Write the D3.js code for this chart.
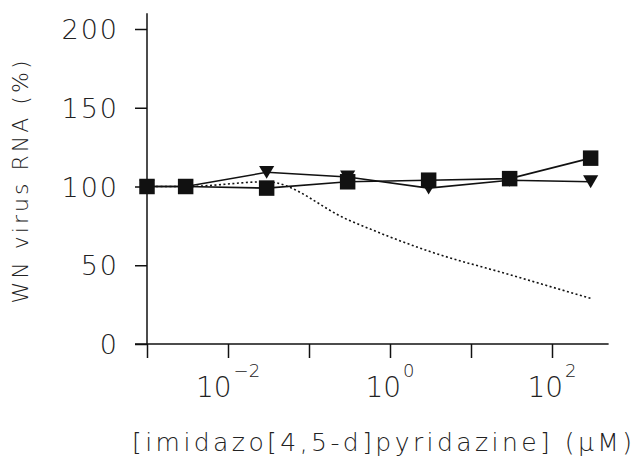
<!DOCTYPE html>
<html>
<head>
<meta charset="utf-8">
<script src="https://cdn.jsdelivr.net/npm/d3@7"></script>
<style>
  body { margin: 0; background: #fff; }
  text { font-family: "DejaVu Sans", sans-serif; fill: #222; font-weight: 200; }
</style>
</head>
<body>
<div id="chart"></div>
<script>
(function() {
var WIDTH = 638;
var HEIGHT = 465;

// concentrations (uM) and % of WN virus RNA
var conc = [0.001, 0.003, 0.03, 0.3, 3, 30, 300];
var squares = [100, 100, 99, 103, 104, 105, 118];
var triangles = [100, 100, 109, 106, 99, 104, 103];
var dotted = [100, 100, 103, 79, 59, 44, 29];
var dottedConc = [0.001, 0.003, 0.03, 0.3, 3, 30, 300];

var yTicks = [0, 50, 100, 150, 200];
var xTicks = [1e-3, 1e-2, 1e-1, 1e0, 1e1, 1e2];
var xLabels = [[1e-2, '\u22122'], [1e0, '0'], [1e2, '2']];

var svg = d3.select('#chart').append('svg')
  .attr('width', WIDTH)
  .attr('height', HEIGHT);

var x = d3.scaleLog().domain([1e-3, 1e2]).range([147, 552]);
var y = d3.scaleLinear().domain([0, 200]).range([344, 29]);

// y axis
var yAxis = svg.append('g')
  .attr('transform', 'translate(' + x(1e-3) + ',0)')
  .call(d3.axisLeft(y).tickValues(yTicks).tickSize(12).tickPadding(16));
yAxis.select('.domain').remove();
yAxis.selectAll('line').attr('stroke', '#111').attr('stroke-width', 1.5);
yAxis.selectAll('text')
  .attr('font-size', 27)
  .attr('letter-spacing', 2)
  .attr('font-family', '"DejaVu Sans", sans-serif')
  .attr('fill', '#222')
  .attr('dy', '0.36em');
svg.append('line')
  .attr('x1', x(1e-3)).attr('x2', x(1e-3))
  .attr('y1', y(0)).attr('y2', y(210))
  .attr('stroke', '#111').attr('stroke-width', 1.5);

// x axis
var xAxis = svg.append('g')
  .attr('transform', 'translate(0,' + y(0) + ')')
  .call(d3.axisBottom(x).tickValues(xTicks).tickSize(14).tickFormat(''));
xAxis.select('.domain').remove();
xAxis.selectAll('line').attr('stroke', '#111').attr('stroke-width', 1.5);
svg.append('line')
  .attr('x1', x(1e-3) - 12).attr('x2', x(500))
  .attr('y1', y(0)).attr('y2', y(0))
  .attr('stroke', '#111').attr('stroke-width', 1.5);

xLabels.forEach(function(d) {
  var t = svg.append('text')
    .attr('x', x(d[0]))
    .attr('y', 397)
    .attr('text-anchor', 'middle');
  t.append('tspan').attr('font-size', 28).text('10');
  t.append('tspan').attr('font-size', 18).attr('dx', 2).attr('dy', -20).text(d[1]);
});

// titles
svg.append('text')
  .attr('transform', 'translate(28,182) rotate(-90)')
  .attr('text-anchor', 'middle')
  .attr('font-size', 22)
  .attr('textLength', 243)
  .attr('lengthAdjust', 'spacing')
  .text('WN virus RNA (%)');

svg.append('text')
  .attr('x', 382)
  .attr('y', 451)
  .attr('text-anchor', 'middle')
  .attr('font-size', 25)
  .attr('textLength', 500)
  .attr('lengthAdjust', 'spacing')
  .text('[imidazo[4,5-d]pyridazine] (\u03bcM)');

// series
var line = d3.line()
  .x(function(d) { return x(d[0]); })
  .y(function(d) { return y(d[1]); });

var curve = d3.line()
  .x(function(d) { return x(d[0]); })
  .y(function(d) { return y(d[1]); })
  .curve(d3.curveMonotoneX);

svg.append('path')
  .datum(d3.zip(dottedConc, dotted))
  .attr('d', curve)
  .attr('fill', 'none')
  .attr('stroke', '#111')
  .attr('stroke-width', 1.6)
  .attr('stroke-dasharray', '2,2.5');

svg.append('path')
  .datum(d3.zip(conc, triangles))
  .attr('d', line)
  .attr('fill', 'none')
  .attr('stroke', '#111')
  .attr('stroke-width', 1.6);

svg.append('path')
  .datum(d3.zip(conc, squares))
  .attr('d', line)
  .attr('fill', 'none')
  .attr('stroke', '#111')
  .attr('stroke-width', 1.6);

var triDown = {
  draw: function(ctx, size) {
    var w = Math.sqrt(size) * 1.1, h = w * 0.85;
    ctx.moveTo(-w / 2, -h / 2);
    ctx.lineTo(w / 2, -h / 2);
    ctx.lineTo(0, h / 2);
    ctx.closePath();
  }
};

svg.selectAll('.tri')
  .data(d3.zip(conc, triangles))
  .enter().append('path')
  .attr('class', 'tri')
  .attr('transform', function(d) { return 'translate(' + x(d[0]) + ',' + y(d[1]) + ')'; })
  .attr('d', d3.symbol().type(triDown).size(190))
  .attr('fill', '#111');

svg.selectAll('.sq')
  .data(d3.zip(conc, squares))
  .enter().append('path')
  .attr('class', 'sq')
  .attr('transform', function(d) { return 'translate(' + x(d[0]) + ',' + y(d[1]) + ')'; })
  .attr('d', d3.symbol().type(d3.symbolSquare).size(240))
  .attr('fill', '#111');
})();
</script>
</body>
</html>
